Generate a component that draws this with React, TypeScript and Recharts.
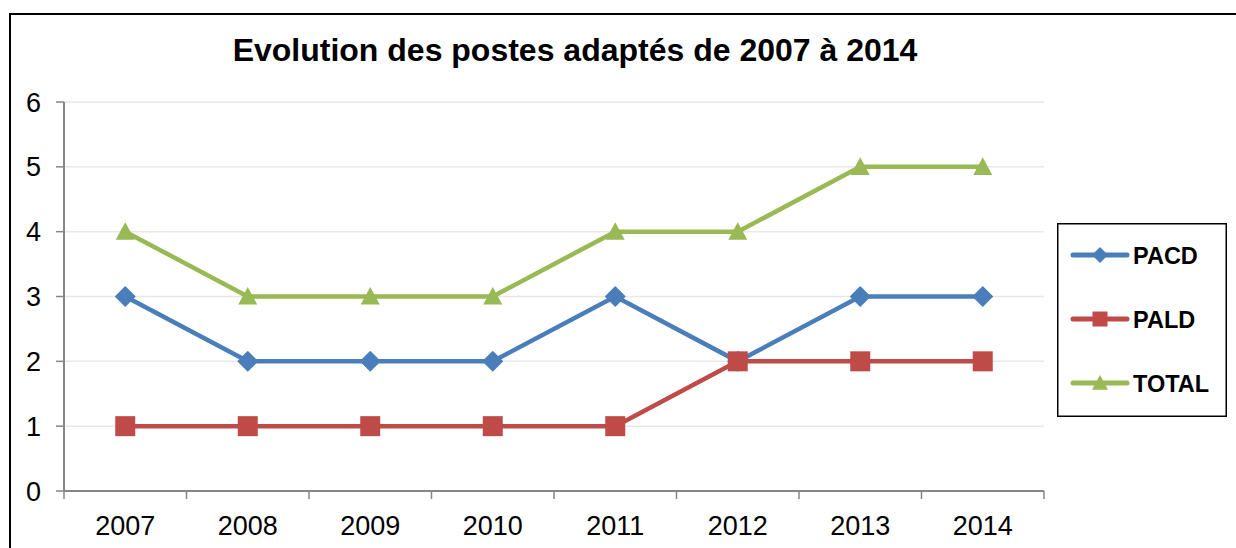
import React from 'react';
import { LineChart, Line, XAxis, YAxis, CartesianGrid, Legend } from 'recharts';

const years = ['2007', '2008', '2009', '2010', '2011', '2012', '2013', '2014'];
const pacd = [3, 2, 2, 2, 3, 2, 3, 3];
const pald = [1, 1, 1, 1, 1, 2, 2, 2];
const total = [4, 3, 3, 3, 4, 4, 5, 5];
const yTicks = [0, 1, 2, 3, 4, 5, 6];

const data = years.map((y, i) => ({ x: i + 0.5, year: y, PACD: pacd[i], PALD: pald[i], TOTAL: total[i] }));
const xTicks: number[] = [];
for (let i = 0; i <= years.length; i++) {
  xTicks.push(i);
  if (i < years.length) xTicks.push(i + 0.5);
}

const BLUE = '#4a7ebb';
const RED = '#be4b48';
const GREEN = '#98b954';
const AXIS = '#868686';
const FONT = '"Liberation Sans", Arial, sans-serif';

const Diamond = ({ cx, cy, r, color }: any) => (
  <path d={`M${cx},${cy - r}L${cx + r},${cy}L${cx},${cy + r}L${cx - r},${cy}Z`} fill={color} stroke={color} strokeWidth={1.5} strokeLinejoin="round" />
);
const Square = ({ cx, cy, r, color }: any) => (
  <rect x={cx - r} y={cy - r} width={2 * r} height={2 * r} fill={color} />
);
const Triangle = ({ cx, cy, r, color }: any) => (
  <path d={`M${cx},${cy - r}L${cx + r},${cy + r * 0.85}L${cx - r},${cy + r * 0.85}Z`} fill={color} />
);

const series = [
  { key: 'PACD', color: BLUE, Shape: Diamond, r: 9.5, lr: 7 },
  { key: 'PALD', color: RED, Shape: Square, r: 10, lr: 7.5 },
  { key: 'TOTAL', color: GREEN, Shape: Triangle, r: 9.5, lr: 8 },
];

const XTick = (props: any) => {
  const { x, y, payload } = props;
  const v = payload.value;
  if (Number.isInteger(v)) {
    return <line x1={x} x2={x} y1={y} y2={y + 8} stroke={AXIS} strokeWidth={1.5} />;
  }
  return (
    <text x={x} y={y + 44} textAnchor="middle" fontSize={27} fontFamily={FONT} fill="#000">
      {years[Math.floor(v)]}
    </text>
  );
};

const LegendContent = () => (
  <svg width={170} height={194} style={{ display: 'block' }}>
    <rect x={0.75} y={0.75} width={168.5} height={192.5} fill="#fff" stroke="#000" strokeWidth={1.5} />
    {series.map((s, i) => {
      const cy = 32 + i * 64;
      return (
        <g key={s.key}>
          <line x1={16} x2={70} y1={cy} y2={cy} stroke={s.color} strokeWidth={5} strokeLinecap="round" />
          <s.Shape cx={43} cy={cy} r={s.lr} color={s.color} />
          <text x={76} y={cy + 8.5} fontSize={23.5} fontWeight="bold" fontFamily={FONT} fill="#000">
            {s.key}
          </text>
        </g>
      );
    })}
  </svg>
);

export default function App() {
  return (
    <div style={{ position: 'absolute', left: 0, top: 0, width: 1236, height: 548, background: '#fff', overflow: 'hidden' }}>
      <div style={{ position: 'absolute', left: 9, top: 13, width: 1300, height: 600, borderLeft: '2px solid #000', borderTop: '2px solid #000' }} />
      <div style={{ position: 'absolute', left: 0, top: 0 }}>
        <LineChart width={1236} height={548} data={data} margin={{ top: 102, right: 192, bottom: 0, left: 14 }}>
          <CartesianGrid horizontal vertical={false} stroke="#e8e8e8" strokeWidth={1.5} />
          <XAxis
            xAxisId="t"
            orientation="top"
            type="number"
            domain={[0, 8]}
            height={0}
            tick={false}
            tickLine={false}
            axisLine={{ stroke: '#000', strokeWidth: 1.5 }}
            allowDataOverflow
          />
          <YAxis
            yAxisId="r"
            orientation="right"
            type="number"
            domain={[0, 6]}
            width={0}
            tick={false}
            tickLine={false}
            axisLine={{ stroke: '#000', strokeWidth: 1.5 }}
            allowDataOverflow
          />
          <XAxis
            dataKey="x"
            type="number"
            domain={[0, 8]}
            ticks={xTicks}
            interval={0}
            height={57}
            tickSize={0}
            tickMargin={0}
            tickLine={false}
            tick={<XTick />}
            axisLine={{ stroke: AXIS, strokeWidth: 2 }}
            allowDataOverflow
          />
          <YAxis
            type="number"
            domain={[0, 6]}
            ticks={yTicks}
            interval={0}
            width={50}
            tickSize={8}
            tickMargin={15}
            tickLine={{ stroke: AXIS, strokeWidth: 1.5 }}
            axisLine={{ stroke: AXIS, strokeWidth: 2 }}
            tick={{ fontSize: 27, fontFamily: FONT, fill: '#000' }}
          />
          {series.map((s) => (
            <Line
              key={s.key}
              dataKey={s.key}
              stroke={s.color}
              strokeWidth={4.5}
              isAnimationActive={false}
              dot={(p: any) => <s.Shape key={`${s.key}-${p.index}`} cx={p.cx} cy={p.cy} r={s.r} color={s.color} />}
              activeDot={false}
            />
          ))}
          <Legend
            layout="vertical"
            align="center"
            verticalAlign="middle"
            content={<LegendContent />}
            wrapperStyle={{ position: 'absolute', left: 1057, top: 223, width: 170, height: 194 }}
          />
        </LineChart>
      </div>
      <div
        style={{
          position: 'absolute',
          left: 0,
          width: 1150,
          top: 32,
          textAlign: 'center',
          fontFamily: FONT,
          fontWeight: 'bold',
          fontSize: 32,
          lineHeight: '36px',
          color: '#000',
          whiteSpace: 'nowrap',
        }}
      >
        Evolution des postes adaptés de 2007 à 2014
      </div>
    </div>
  );
}
